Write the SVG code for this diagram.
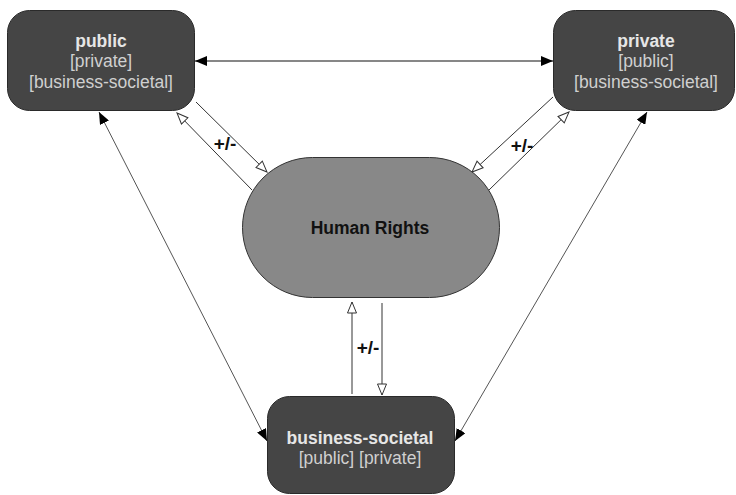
<svg xmlns="http://www.w3.org/2000/svg" width="736" height="495" viewBox="0 0 736 495">
<style>
.box{fill:#454545;stroke:#2a2a2a;stroke-width:1}
.hr{fill:#888888;stroke:#333;stroke-width:1}
.t{font-family:"Liberation Sans",Arial,sans-serif;font-size:17.5px;text-anchor:middle}
.b{font-weight:bold;fill:#e6e6e6}
.r{fill:#d0d0d0}
.k{fill:#111;font-weight:bold}
.lbl{font-size:19px}
.solid{stroke:#111;stroke-width:1.2;fill:none}
.diag{stroke:#555;stroke-width:1;fill:none}
.open{stroke:#333;stroke-width:1;fill:none}
</style>
<defs>
<marker id="fa" viewBox="0 0 12 10" refX="12" refY="5" markerWidth="12" markerHeight="10" markerUnits="userSpaceOnUse" orient="auto-start-reverse">
<path d="M0,0 L12,5 L0,10 z" fill="#000"/>
</marker>
<marker id="oa" viewBox="0 0 13 11" refX="12" refY="5.5" markerWidth="13" markerHeight="11" markerUnits="userSpaceOnUse" orient="auto">
<path d="M1,1 L12,5.5 L1,10 z" fill="#fff" stroke="#333" stroke-width="1"/>
</marker>
</defs>
<g id="connectors">
<line class="solid" x1="195" y1="61" x2="553" y2="61" marker-start="url(#fa)" marker-end="url(#fa)"/>
<line class="diag" x1="99" y1="112" x2="267" y2="441" marker-start="url(#fa)" marker-end="url(#fa)"/>
<line class="diag" x1="647" y1="112" x2="455" y2="441" marker-start="url(#fa)" marker-end="url(#fa)"/>
<line class="open" x1="196" y1="102" x2="267" y2="172" marker-end="url(#oa)"/>
<line class="open" x1="252" y1="190" x2="177" y2="113" marker-end="url(#oa)"/>
<line class="open" x1="553" y1="97" x2="472" y2="172" marker-end="url(#oa)"/>
<line class="open" x1="489" y1="190" x2="569" y2="112" marker-end="url(#oa)"/>
<line class="open" x1="352" y1="394" x2="352" y2="302" marker-end="url(#oa)"/>
<line class="open" x1="382" y1="303" x2="382" y2="395" marker-end="url(#oa)"/>
<text class="t k lbl" x="225" y="150">+/-</text>
<text class="t k lbl" x="522" y="152">+/-</text>
<text class="t k lbl" x="368" y="354">+/-</text>
</g>
<g id="public">
<rect class="box" x="7.5" y="10.5" width="187" height="100" rx="22"/>
<text class="t b" x="101" y="47">public</text>
<text class="t r" x="101" y="67">[private]</text>
<text class="t r" x="101" y="88">[business-societal]</text>
</g>
<g id="private">
<rect class="box" x="553.5" y="10.5" width="181" height="100" rx="22"/>
<text class="t b" x="646" y="47">private</text>
<text class="t r" x="646" y="67">[public]</text>
<text class="t r" x="646" y="88">[business-societal]</text>
</g>
<g id="human-rights">
<rect class="hr" x="242.5" y="157.5" width="257" height="140" rx="70"/>
<text class="t k" x="370" y="234">Human Rights</text>
</g>
<g id="business-societal">
<rect class="box" x="267.5" y="396.5" width="187" height="97" rx="22"/>
<text class="t b" x="360" y="444">business-societal</text>
<text class="t r" x="360" y="464">[public] [private]</text>
</g>
</svg>
